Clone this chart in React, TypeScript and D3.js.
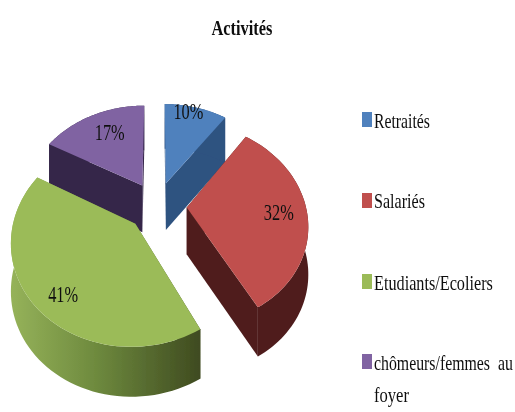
import React from "react";
import * as d3 from "d3";

const categories = ["Retraités", "Salariés", "Etudiants/Ecoliers", "chômeurs/femmes au foyer"];
const values = [10, 32, 41, 17];
const topColors = ["#4f81bd", "#c0504d", "#9bbb59", "#8064a2"];
const sideColors = ["#2f5280", "#4f1f1f", "url(#greenSide)", "#35264a"];
const legendLines = [["Retraités"], ["Salariés"], ["Etudiants/Ecoliers"], ["chômeurs/femmes\u00a0 au", "foyer"]];
const legendWidths = [[56], [51], [119], [139, 35]];
const legendBaselines = [[128], [208], [290], [370, 402]];
const swatchTops = [112, 193, 274, 354];
const labelAngleShift = [-3.5, 0, -4.8, 4];
const labelRadius = [0.93, 0.766, 0.8, 0.72];

const W = 515, H = 412;
const cx = 157, cy = 206, Rx = 119, Ry = 98, k = 0.154, explode = 0.25, depth = 47;

function project(u: number, v: number, z = 0): [number, number] {
  const p = 1 / (1 + k * v);
  return [cx + Rx * u * p, cy - Ry * v * p + z * depth * Math.pow(p, 0.3)];
}

const pie = d3.pie<number>().sort(null).value((d) => d).startAngle(0).endAngle(2 * Math.PI);
const arcs = pie(values);
const line = d3.line<[number, number]>();

function rim(a0: number, a1: number, ou: number, ov: number, z: number): [number, number][] {
  return d3.range(0, 61).map((i) => {
    const t = a0 + ((a1 - a0) * i) / 60;
    return project(ou + Math.sin(t), ov + Math.cos(t), z);
  });
}

function Squeezed({ x, y, width, size, weight, anchor, children }: any) {
  const fit = (node: SVGTextElement | null) => {
    if (!node) return;
    const natural = node.getComputedTextLength();
    const left = anchor === "middle" ? x - width / 2 : x;
    node.setAttribute("transform", `translate(${left},${y}) scale(${width / natural},1)`);
  };
  return (
    <text ref={fit} fontSize={size} fontWeight={weight} fill="#111">
      {children}
    </text>
  );
}

export default function App() {
  const slices = arcs.map((a, i) => {
    const mid = (a.startAngle + a.endAngle) / 2;
    const ou = explode * Math.sin(mid), ov = explode * Math.cos(mid);
    const apexT = project(ou, ov, 0), apexB = project(ou, ov, 1);
    const rT = rim(a.startAngle, a.endAngle, ou, ov, 0);
    const rB = rim(a.startAngle, a.endAngle, ou, ov, 1);
    const top = [apexT, ...rT];
    const outer = [...rT, ...rB.slice().reverse()];
    const w0 = [apexT, rT[0], rB[0], apexB];
    const w1 = [apexT, rT[60], rB[60], apexB];
    const la = mid + (labelAngleShift[i] * Math.PI) / 180;
    const lp = project(ou + labelRadius[i] * Math.sin(la), ov + labelRadius[i] * Math.cos(la), 0);
    return { i, top, outer, w0, w1, mid, lp };
  });
  const order = [0, 3, 1, 2];
  return (
    <svg width={W} height={H} style={{ position: "absolute", left: 0, top: 0, fontFamily: "'Liberation Serif', serif" }}>
      <defs>
        <linearGradient id="greenSide" gradientUnits="userSpaceOnUse" x1="10" x2="200" y1="0" y2="0">
          <stop offset="0" stopColor="#96b35a" />
          <stop offset="0.45" stopColor="#6e8a3e" />
          <stop offset="1" stopColor="#3f4b20" />
        </linearGradient>
        <filter id="soft" x="-5%" y="-5%" width="110%" height="110%">
          <feGaussianBlur stdDeviation="0.6" />
        </filter>
      </defs>
      <rect width={W} height={H} fill="#fff" />
      <g filter="url(#soft)">
        {order.map((n) => {
          const s = slices[n];
          return (
            <g key={n}>
              <path d={line(s.w0)! + "Z"} fill={sideColors[n]} />
              <path d={line(s.w1)! + "Z"} fill={sideColors[n]} />
              <path d={line(s.outer)! + "Z"} fill={sideColors[n]} />
              <path d={line(s.top)! + "Z"} fill={topColors[n]} />
            </g>
          );
        })}
        {slices.map((s) => (
          <Squeezed key={s.i} x={s.lp[0]} y={s.lp[1] + 8} width={30} size={23} anchor="middle">
            {values[s.i]}%
          </Squeezed>
        ))}
        <Squeezed x={242} y={35} width={61} size={20} weight="bold" anchor="middle">
          Activités
        </Squeezed>
        {categories.map((c, i) => (
          <g key={c}>
            <rect x={362} y={swatchTops[i]} width={10} height={15} fill={topColors[i]} />
            {legendLines[i].map((t, j) => (
              <Squeezed key={j} x={374} y={legendBaselines[i][j]} width={legendWidths[i][j]} size={21}>
                {t}
              </Squeezed>
            ))}
          </g>
        ))}
      </g>
    </svg>
  );
}
